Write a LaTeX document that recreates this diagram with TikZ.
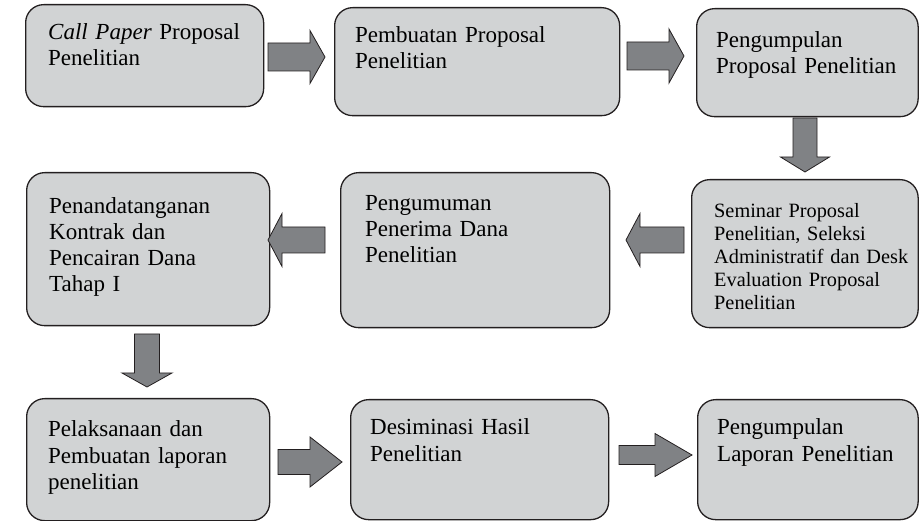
\documentclass[tikz,border=0pt]{standalone}
\usepackage{fontspec}
\setmainfont{Liberation Serif}
\definecolor{boxgray}{RGB}{209,211,212}
\definecolor{arrowgray}{RGB}{128,130,133}
\definecolor{edgegray}{RGB}{35,31,32}
\tikzset{
  stage/.style={draw=edgegray, fill=boxgray, line width=1.3pt, rounded corners=18pt,
    anchor=north west, inner sep=0pt},
  stagetext/.style={anchor=base west, inner sep=0pt, text width=230pt, align=left,
    font=\fontsize{23}{26}\selectfont},
  smalltext/.style={stagetext, font=\fontsize{20.3}{23}\selectfont},
  lowtext/.style={stagetext, font=\fontsize{23}{27}\selectfont},
  % block arrow: length, shaft half width, head half width, head length
  pics/blockarrow/.style n args={4}{code={
    \draw[draw=edgegray, fill=arrowgray, line width=0.8pt]
      (0,-#2) -- (#1-#4,-#2) -- (#1-#4,-#3) -- (#1,0) -- (#1-#4,#3) -- (#1-#4,#2) -- (0,#2) -- cycle;}}
}
\begin{document}
\begin{tikzpicture}[x=1pt,y=-1pt]
  \useasboundingbox (0,0) rectangle (919,521);
  % top row
  \node[stage, minimum width=238pt, minimum height=102pt] (b1) at (25,4) {};
  \node[stage, minimum width=285pt, minimum height=108pt] (b2) at (334,7) {};
  \node[stage, minimum width=221.5pt, minimum height=108pt] (b3) at (696,8) {};
  \node[stagetext] (b1-text) at (48,40) {\textit{Call Paper} Proposal\\Penelitian};
  \node[stagetext] (b2-text) at (355,43) {Pembuatan Proposal\\Penelitian};
  \node[stagetext] (b3-text) at (716,48) {Pengumpulan\\Proposal Penelitian};
  % middle row
  \node[stage, minimum width=226.5pt, minimum height=148pt] (b4) at (691,179) {};
  \node[stage, minimum width=269pt, minimum height=155pt] (b5) at (340,172) {};
  \node[stage, minimum width=243pt, minimum height=153pt] (b6) at (26,172) {};
  \node[smalltext] (b4-text) at (714,218)
    {Seminar Proposal\\Penelitian, Seleksi\\Administratif dan Desk\\Evaluation Proposal\\Penelitian};
  \node[stagetext] (b5-text) at (365,211) {Pengumuman\\Penerima Dana\\Penelitian};
  \node[stagetext] (b6-text) at (49,214) {Penandatanganan\\Kontrak dan\\Pencairan Dana\\Tahap I};
  % bottom row
  \node[stage, minimum width=243pt, minimum height=122pt] (b7) at (26,398) {};
  \node[stage, minimum width=258pt, minimum height=120pt] (b8) at (350,399) {};
  \node[stage, minimum width=220.5pt, minimum height=120pt] (b9) at (697,399) {};
  \node[lowtext] (b7-text) at (48,436) {Pelaksanaan dan\\Pembuatan laporan\\penelitian};
  \node[lowtext] (b8-text) at (370,435) {Desiminasi Hasil\\Penelitian};
  \node[lowtext] (b9-text) at (717,435) {Pengumpulan\\Laporan Penelitian};
  % arrows between the stages
  \pic (a12) at (268,57) {blockarrow={57}{14}{26.5}{15}};
  \pic (a23) at (627,56) {blockarrow={57}{14}{27}{15}};
  \pic[rotate=-90] (a34) at (805,118) {blockarrow={54}{12}{24.5}{15}};
  \pic[rotate=180] (a45) at (684,240) {blockarrow={58}{13}{26.5}{14}};
  \pic[rotate=180] (a56) at (325,240) {blockarrow={57}{13}{26.5}{14}};
  \pic[rotate=-90] (a67) at (147,334) {blockarrow={53}{12.5}{25}{14}};
  \pic (a78) at (278,462) {blockarrow={64}{12.5}{25}{32}};
  \pic (a89) at (619,455) {blockarrow={73}{9.5}{21.5}{37}};
\end{tikzpicture}
\end{document}
